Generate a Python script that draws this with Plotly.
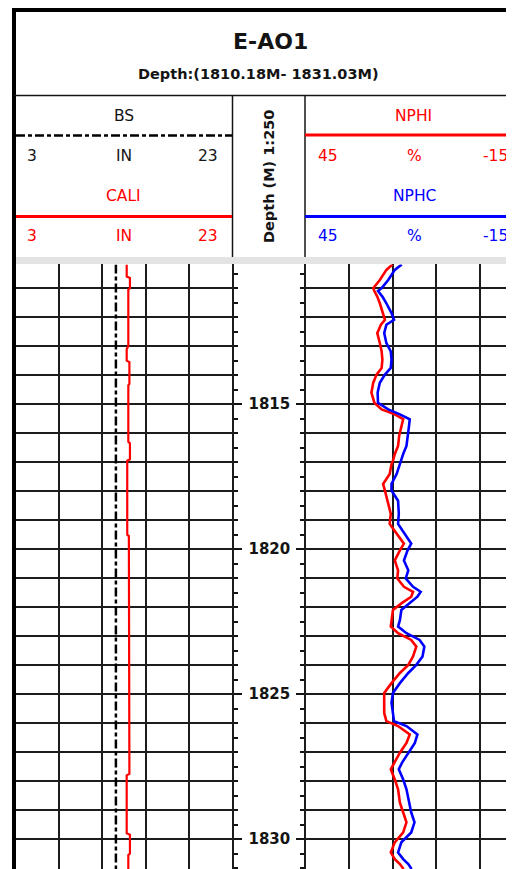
import plotly.graph_objects as go

# page body has an 8px margin: the figure occupies window pixels 8..514 x 8..869
OFF = 8
W, H = 514 - OFF, 869 - OFF

# ---------------- data ----------------
title = "E-AO1"
subtitle = "Depth:(1810.18M- 1831.03M)"
depth_top, depth_bottom = 1810.18, 1831.03

nphi_depth = [1810.18, 1810.37, 1810.72, 1811.00, 1811.10, 1811.29, 1811.52, 1811.86, 1812.09, 1812.26,
              1812.55, 1812.89, 1813.18, 1813.46, 1813.75, 1813.98, 1814.26, 1814.60, 1814.95, 1815.18,
              1815.35, 1815.52, 1815.75, 1816.09, 1816.44, 1816.72, 1816.95, 1817.07, 1817.41, 1817.75,
              1817.98, 1818.33, 1818.78, 1819.13, 1819.47, 1819.81, 1820.04, 1820.39, 1820.73, 1821.01,
              1821.30, 1821.47, 1821.64, 1821.87, 1822.10, 1822.45, 1822.67, 1822.90, 1823.13, 1823.36,
              1823.70, 1823.99, 1824.27, 1824.62, 1824.96, 1825.30, 1825.65, 1825.93, 1826.10, 1826.39,
              1826.68, 1827.02, 1827.36, 1827.59, 1827.94, 1828.28, 1828.74, 1829.08, 1829.42, 1829.77,
              1830.11, 1830.46, 1830.69, 1830.86, 1831.03]
nphi = [21.0, 22.7, 24.5, 26.3, 26.0, 25.2, 24.5, 23.6, 23.1, 24.2,
        25.2, 24.5, 24.0, 23.8, 24.0, 25.4, 26.3, 26.8, 26.0, 24.0,
        20.4, 18.1, 18.6, 19.2, 19.5, 20.4, 20.9, 21.3, 21.8, 23.6,
        23.1, 22.4, 21.5, 21.8, 19.9, 17.9, 19.0, 20.4, 19.5, 19.7,
        17.9, 15.4, 15.9, 18.6, 20.9, 21.3, 21.5, 19.5, 15.9, 14.5,
        15.4, 16.7, 19.0, 21.3, 23.3, 23.3, 23.3, 22.7, 19.5, 16.3,
        17.2, 19.0, 20.4, 21.5, 20.4, 19.5, 19.0, 18.1, 17.2, 18.1,
        20.4, 21.5, 20.4, 19.0, 18.0]
nphc = [18.5, 20.4, 22.2, 24.0, 25.0, 23.8, 22.7, 21.3, 20.6, 22.7,
        23.3, 22.7, 21.5, 21.3, 21.5, 23.1, 24.5, 25.1, 25.0, 22.2,
        19.0, 16.3, 16.5, 16.9, 17.2, 18.1, 18.7, 19.0, 19.9, 21.3,
        21.3, 19.5, 19.3, 19.5, 17.6, 15.9, 16.9, 17.9, 16.7, 17.4,
        15.4, 13.3, 14.2, 16.3, 18.6, 19.0, 19.5, 17.2, 13.6, 12.3,
        12.8, 14.5, 16.7, 19.0, 20.9, 21.3, 21.0, 20.6, 17.2, 14.2,
        14.9, 16.7, 18.4, 19.3, 18.1, 17.2, 16.5, 15.9, 15.0, 15.9,
        18.6, 19.5, 18.1, 16.7, 15.8]

cali_depth = [1810.18, 1810.60, 1810.65, 1811.00, 1811.05, 1813.00, 1813.10, 1813.50, 1813.55, 1814.30,
              1814.35, 1816.30, 1816.35, 1816.90, 1816.95, 1819.50, 1819.55, 1823.50, 1823.55, 1827.75,
              1827.80, 1829.80, 1829.85, 1830.50, 1830.55, 1831.03]
cali = [13.25, 13.25, 13.55, 13.55, 13.40, 13.40, 13.25, 13.25, 13.50, 13.50,
        13.40, 13.40, 13.55, 13.55, 13.30, 13.30, 13.45, 13.45, 13.50, 13.50,
        13.25, 13.25, 13.55, 13.55, 13.40, 13.40]

bs_depth = [1810.18, 1831.03]
bs = [12.25, 12.25]

cali_range = [3, 23]
nphi_scale = [45, -15]
depth_ticks_major = 5
depth_ticks_minor = 0.5
depth_grid = 1

# ---------------- layout helpers ----------------
FONT = "DejaVu Sans"
INK = "#141414"
GRID = "#1c1c1c"
RED = "#ff0000"
BLUE = "#0000ff"

def px(x):
    return (x - OFF) / W

def py(y):
    return 1 - (y - OFF) / H

plot_top_px = 264.4
ydom = [0, py(plot_top_px)]
yrange = [depth_bottom, depth_top]

# right track is ~219px wide, clipped by the window edge
right_track_w = 219.0
x2_end = nphi_scale[0] + (nphi_scale[1] - nphi_scale[0]) * (514 - 305) / right_track_w

fig = go.Figure()

fig.add_trace(go.Scatter(x=cali, y=cali_depth, mode="lines", xaxis="x", yaxis="y",
                         line=dict(color=RED, width=2.2), showlegend=False, hoverinfo="skip"))
fig.add_trace(go.Scatter(x=bs, y=bs_depth, mode="lines", xaxis="x", yaxis="y3",
                         line=dict(color="#000000", width=2.5, dash="9px,3px,4px,3px"),
                         showlegend=False, hoverinfo="skip"))
fig.add_trace(go.Scatter(x=nphi, y=nphi_depth, mode="lines", xaxis="x2", yaxis="y2",
                         line=dict(color=RED, width=2.6), showlegend=False, hoverinfo="skip"))
fig.add_trace(go.Scatter(x=nphc, y=nphi_depth, mode="lines", xaxis="x2", yaxis="y4",
                         line=dict(color=BLUE, width=2.6), showlegend=False, hoverinfo="skip"))

tickfont = dict(family=FONT, size=15, color=INK, weight="bold")

fig.update_layout(
    width=W, height=H,
    margin=dict(l=0, r=0, t=0, b=0),
    paper_bgcolor="white", plot_bgcolor="white",
    showlegend=False,
    xaxis=dict(domain=[px(16), px(232)], range=cali_range, tick0=cali_range[0], dtick=4,
               showgrid=True, gridcolor=GRID, gridwidth=2, showticklabels=False, ticks="",
               zeroline=False, showline=False, anchor="y", fixedrange=True),
    yaxis=dict(domain=ydom, range=yrange, tick0=1810, dtick=depth_grid,
               showgrid=True, gridcolor=GRID, gridwidth=2, showticklabels=False, ticks="",
               zeroline=False, showline=False, anchor="x", fixedrange=True),
    xaxis2=dict(domain=[px(305), 1], range=[nphi_scale[0], x2_end], tick0=nphi_scale[0], dtick=12,
                showgrid=True, gridcolor=GRID, gridwidth=2, showticklabels=False, ticks="",
                zeroline=False, showline=False, anchor="y2", fixedrange=True),
    yaxis2=dict(domain=ydom, range=yrange, tick0=1810, dtick=depth_grid,
                showgrid=True, gridcolor=GRID, gridwidth=2, showticklabels=False, ticks="",
                zeroline=False, showline=False, anchor="x2", fixedrange=True),
    yaxis3=dict(overlaying="y", anchor="free", position=px(232.5), side="right",
                range=yrange, tick0=1810, dtick=depth_ticks_major,
                ticks="outside", ticklen=8, tickwidth=1.6, tickcolor=INK,
                showticklabels=True, tickfont=tickfont, ticklabelstandoff=4,
                minor=dict(tick0=1810, dtick=depth_ticks_minor, ticks="outside", ticklen=4,
                           tickwidth=1.6, tickcolor=INK, showgrid=False),
                showgrid=False, zeroline=False, showline=True, linewidth=2, linecolor=GRID,
                fixedrange=True),
    yaxis4=dict(overlaying="y2", anchor="free", position=px(305), side="left",
                range=yrange, tick0=1810, dtick=depth_ticks_major,
                ticks="outside", ticklen=8, tickwidth=1.6, tickcolor=INK,
                showticklabels=False,
                minor=dict(tick0=1810, dtick=depth_ticks_minor, ticks="outside", ticklen=4,
                           tickwidth=1.6, tickcolor=INK, showgrid=False),
                showgrid=False, zeroline=False, showline=True, linewidth=2, linecolor=GRID,
                fixedrange=True),
)

shapes = []

def hline(y, x0, x1, color, width, dash=None):
    line = dict(color=color, width=width)
    if dash:
        line["dash"] = dash
    shapes.append(dict(type="line", xref="paper", yref="paper", x0=px(x0), x1=px(x1),
                       y0=py(y), y1=py(y), line=line, layer="above"))

def vline(x, y0, y1, color, width):
    shapes.append(dict(type="line", xref="paper", yref="paper", x0=px(x), x1=px(x),
                       y0=py(y0), y1=py(y1), line=dict(color=color, width=width), layer="above"))

# grey band between header and tracks
shapes.append(dict(type="rect", xref="paper", yref="paper", x0=px(16), x1=1, y0=py(264), y1=py(257),
                   fillcolor="#e4e4e4", line=dict(width=0), layer="above"))
# frame
hline(10, 12, 520, "#000000", 4)
vline(14, 8, 875, "#000000", 4)
hline(95.5, 14, 520, INK, 1.5)
vline(232.5, 95.5, 257, INK, 1.5)
vline(305, 95.5, 257, INK, 1.5)
# curve legend lines in header
hline(135.5, 16, 232, "#000000", 2.5, dash="9px,3px,4px,3px")
hline(216.5, 16, 232, RED, 3)
hline(135, 305, 520, RED, 3)
hline(216.5, 305, 520, BLUE, 3)

annotations = []

def text(s, x, y, size, color, xanchor="center", bold=False, angle=0):
    font = dict(family=FONT, size=size, color=color)
    if bold:
        font["weight"] = "bold"
    annotations.append(dict(text=s, x=px(x), y=py(y), xref="paper", yref="paper",
                            xanchor=xanchor, yanchor="middle", showarrow=False,
                            font=font, textangle=angle))

text(title, 270.5, 41, 22, INK, bold=True)
text(subtitle, 258, 74, 14.5, INK, bold=True)

# left track header
text("BS", 123.5, 116, 15.5, INK)
text("3", 25, 156, 15.5, INK, xanchor="left")
text("IN", 124, 156, 15.5, INK)
text("23", 220, 156, 15.5, INK, xanchor="right")
text("CALI", 123, 196, 15.5, RED)
text("3", 25, 236, 15.5, RED, xanchor="left")
text("IN", 124, 236, 15.5, RED)
text("23", 220, 236, 15.5, RED, xanchor="right")

# depth track header
text("Depth (M) 1:250", 269, 177, 14.5, INK, bold=True, angle=-90)

# right track header
text("NPHI", 413.5, 116, 15.5, RED)
text("45", 316, 156, 15.5, RED, xanchor="left")
text("%", 414, 156, 15.5, RED)
text("-15", 510, 156, 15.5, RED, xanchor="right")
text("NPHC", 414, 196, 15.5, BLUE)
text("45", 316, 236, 15.5, BLUE, xanchor="left")
text("%", 414, 236, 15.5, BLUE)
text("-15", 510, 236, 15.5, BLUE, xanchor="right")

fig.update_layout(shapes=shapes, annotations=annotations)

fig.write_html(
    "out.html",
    post_script="document.documentElement.style.overflow='hidden';"
                "document.body.style.overflow='hidden';",
)
